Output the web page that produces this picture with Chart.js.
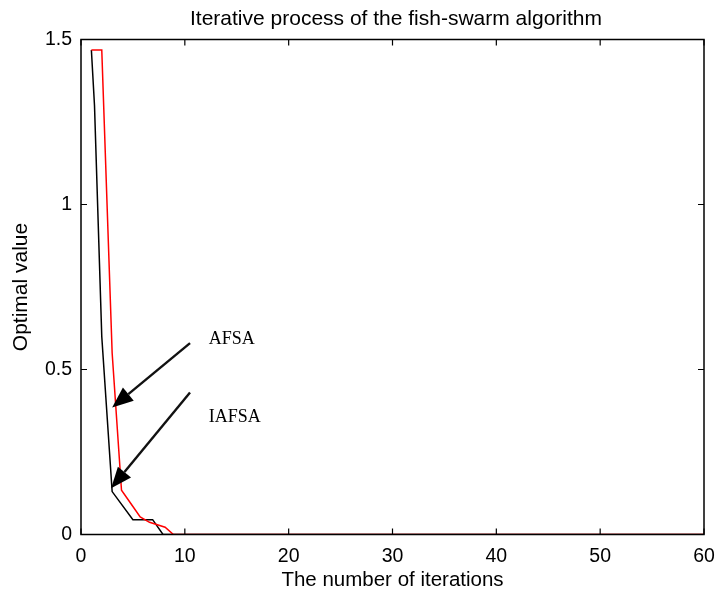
<!DOCTYPE html>
<html>
<head>
<meta charset="utf-8">
<script src="https://cdn.jsdelivr.net/npm/chart.js@4"></script>
<style>
  html, body { margin: 0; padding: 0; background: #fff; }
  #wrap { width: 717px; height: 598px; }
</style>
</head>
<body>
<div id="wrap"><canvas id="fishChart"></canvas></div>
<script>
// iteration number and best value found so far
const afsaIter = [1, 2, 3, 3.9, 5, 5.7, 6.6, 8.1, 8.9, 60];
const afsaValue = [1.468, 1.468, 0.55, 0.134, 0.085, 0.053, 0.037, 0.022, 0, 0];
const iafsaIter = [1, 1.3, 2, 3, 5, 6.9, 7.9, 60];
const iafsaValue = [1.468, 1.30, 0.60, 0.13, 0.045, 0.045, 0, 0];

const xTicks = [0, 10, 20, 30, 40, 50, 60];
const yTicks = [0, 0.5, 1, 1.5];

const chartTitle = 'Iterative process of the fish-swarm algorithm';

// arrows: label, label position, tail, tip (data coords)
const arrowNotes = [
  { text: 'AFSA', at: [12.3, 0.577], tail: [10.5, 0.58], tip: [3.0, 0.385] },
  { text: 'IAFSA', at: [12.3, 0.34], tail: [10.5, 0.43], tip: [2.9, 0.14] }
];

const toPoints = (xs, ys) => xs.map((x, i) => ({ x: x, y: ys[i] }));
const sans = 'Arial, "Liberation Sans", sans-serif';

// title plus a MATLAB-style box with inward ticks on all four sides
const boxPlugin = {
  id: 'box',
  afterDraw(chart) {
    const { ctx, chartArea: a, scales } = chart;
    ctx.save();
    ctx.fillStyle = '#000';
    ctx.font = '21px ' + sans;
    ctx.textAlign = 'center';
    ctx.textBaseline = 'alphabetic';
    ctx.fillText(chartTitle, 396, 25);

    ctx.strokeStyle = '#000';
    ctx.lineWidth = 1.5;
    ctx.strokeRect(a.left, a.top, a.right - a.left, a.bottom - a.top);
    ctx.lineWidth = 1.2;
    ctx.beginPath();
    xTicks.forEach(v => {
      const px = scales.x.getPixelForValue(v);
      ctx.moveTo(px, a.bottom); ctx.lineTo(px, a.bottom - 6);
      ctx.moveTo(px, a.top); ctx.lineTo(px, a.top + 6);
    });
    yTicks.forEach(v => {
      const py = scales.y.getPixelForValue(v);
      ctx.moveTo(a.left, py); ctx.lineTo(a.left + 6, py);
      ctx.moveTo(a.right, py); ctx.lineTo(a.right - 6, py);
    });
    ctx.stroke();
    ctx.restore();
  }
};

const arrowPlugin = {
  id: 'arrows',
  afterDatasetsDraw(chart) {
    const { ctx, scales } = chart;
    const px = p => [scales.x.getPixelForValue(p[0]), scales.y.getPixelForValue(p[1])];
    ctx.save();
    arrowNotes.forEach(n => {
      const [x0, y0] = px(n.tail);
      const [x1, y1] = px(n.tip);
      const ang = Math.atan2(y1 - y0, x1 - x0);
      const head = 21, half = 8.5;
      const bx = x1 - head * Math.cos(ang), by = y1 - head * Math.sin(ang);
      ctx.strokeStyle = '#111';
      ctx.lineWidth = 2.4;
      ctx.beginPath();
      ctx.moveTo(x0, y0); ctx.lineTo(bx, by);
      ctx.stroke();
      ctx.fillStyle = '#000';
      ctx.beginPath();
      ctx.moveTo(x1, y1);
      ctx.lineTo(bx - half * Math.sin(ang), by + half * Math.cos(ang));
      ctx.lineTo(bx + half * Math.sin(ang), by - half * Math.cos(ang));
      ctx.closePath();
      ctx.fill();
      const [tx, ty] = px(n.at);
      ctx.font = '18px "Liberation Serif", "Times New Roman", serif';
      ctx.textAlign = 'left';
      ctx.textBaseline = 'alphabetic';
      ctx.fillText(n.text, tx, ty);
    });
    ctx.restore();
  }
};

const tickFont = { family: sans, size: 19.5 };

new Chart(document.getElementById('fishChart'), {
  type: 'line',
  data: {
    datasets: [
      {
        label: 'AFSA',
        data: toPoints(afsaIter, afsaValue),
        borderColor: '#ff0000',
        borderWidth: 1.5,
        pointRadius: 0,
        tension: 0
      },
      {
        label: 'IAFSA',
        data: toPoints(iafsaIter, iafsaValue),
        borderColor: '#000000',
        borderWidth: 1.5,
        pointRadius: 0,
        tension: 0
      }
    ]
  },
  options: {
    responsive: true,
    maintainAspectRatio: false,
    animation: false,
    layout: { padding: { left: 0, right: 13, top: 39.5, bottom: 0 } },
    scales: {
      x: {
        type: 'linear',
        min: 0,
        max: 60,
        afterBuildTicks: s => { s.ticks = xTicks.map(v => ({ value: v })); },
        afterFit: s => { s.height = 63.5; s.paddingLeft = 0; s.paddingRight = 0; },
        ticks: { color: '#000', font: tickFont, padding: 10, maxRotation: 0 },
        grid: { display: false, drawTicks: false },
        border: { display: false },
        title: {
          display: true,
          text: 'The number of iterations',
          color: '#000',
          font: { family: sans, size: 20.5 },
          padding: { top: 0, bottom: 5 }
        }
      },
      y: {
        min: 0,
        max: 1.5,
        afterBuildTicks: s => { s.ticks = yTicks.map(v => ({ value: v })); },
        afterFit: s => { s.width = 81; },
        ticks: { color: '#000', font: tickFont, padding: 9, callback: v => String(v) },
        grid: { display: false, drawTicks: false },
        border: { display: false },
        title: {
          display: true,
          text: 'Optimal value',
          color: '#000',
          font: { family: sans, size: 21 },
          padding: { top: 9, bottom: 0 }
        }
      }
    },
    plugins: {
      legend: { display: false },
      tooltip: { enabled: false },
      title: { display: false }
    }
  },
  plugins: [boxPlugin, arrowPlugin]
});
</script>
</body>
</html>
